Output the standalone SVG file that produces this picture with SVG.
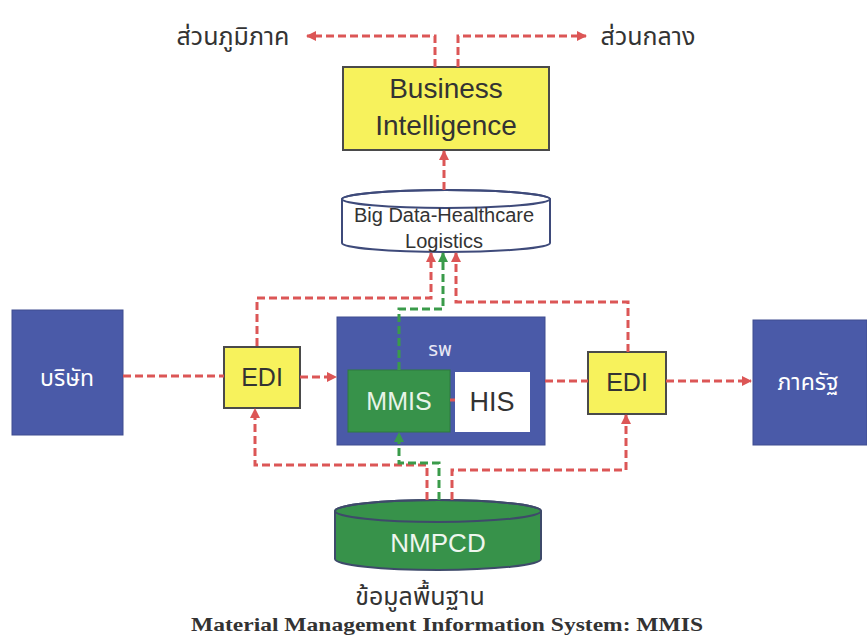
<svg xmlns="http://www.w3.org/2000/svg" width="867" height="639" viewBox="0 0 867 639">
<style>
.red{fill:none;stroke:#dc5656;stroke-width:3;stroke-dasharray:8 4}
.grn{fill:none;stroke:#3a9b4a;stroke-width:3;stroke-dasharray:8 4}
.box{stroke:#4a4a4a;stroke-width:2}
.yel{fill:#f7f25c}
.blue{fill:#4a5aa8;stroke:#3e4c90;stroke-width:1}
.sans{font-family:"Liberation Sans",Arial,sans-serif}
.th{font-family:"Noto Sans Thai","Noto Serif Thai","Noto Sans","DejaVu Sans",sans-serif}
</style>
<defs>
<marker id="ar" viewBox="0 0 10 10" refX="9" refY="5" markerWidth="10" markerHeight="10" markerUnits="userSpaceOnUse" orient="auto"><path d="M0,0 L10,5 L0,10 Z" fill="#dc5656"/></marker>
<marker id="ag" viewBox="0 0 10 10" refX="9" refY="5" markerWidth="10" markerHeight="10" markerUnits="userSpaceOnUse" orient="auto"><path d="M0,0 L10,5 L0,10 Z" fill="#3a9b4a"/></marker>
</defs>
<rect width="867" height="639" fill="#ffffff"/>

<g id="label-regional"><text class="th" x="233" y="45" font-size="25" fill="#333" text-anchor="middle">ส่วนภูมิภาค</text></g>
<g id="label-central"><text class="th" x="648" y="45" font-size="25" fill="#333" text-anchor="middle">ส่วนกลาง</text></g>

<g id="bi">
<rect class="box yel" x="343" y="67" width="206" height="83"/>
<text class="sans" x="446" y="98" font-size="28" fill="#333" text-anchor="middle">Business</text>
<text class="sans" x="446" y="135" font-size="28" fill="#333" text-anchor="middle">Intelligence</text>
</g>

<g id="bigdata">
<path d="M342,199 V243 A104,9 0 0 0 550,243 V199 A104,9 0 0 0 342,199 Z" fill="#fff" stroke="#3e4a7a" stroke-width="2"/>
<ellipse cx="446" cy="199" rx="104" ry="9" fill="none" stroke="#3e4a7a" stroke-width="2"/>
<text class="sans" x="444" y="222" font-size="20" fill="#333" text-anchor="middle">Big Data-Healthcare</text>
<text class="sans" x="444" y="248" font-size="20" fill="#333" text-anchor="middle">Logistics</text>
</g>

<g id="company">
<rect class="blue" x="12" y="310" width="111" height="125"/>
<text class="th" x="67" y="386" font-size="23" fill="#fff" text-anchor="middle">บริษัท</text>
</g>

<g id="edi-left">
<rect class="box yel" x="224" y="347" width="76" height="61"/>
<text class="sans" x="262" y="386" font-size="25" fill="#333" text-anchor="middle">EDI</text>
</g>

<g id="hospital">
<rect class="blue" x="337" y="317" width="208" height="128"/>
<text class="th" x="440" y="356" font-size="20" fill="#e8e8f4" text-anchor="middle">รพ</text>
</g>

<g id="mmis">
<rect x="348" y="370" width="102" height="62" fill="#37924a" stroke="#2f7a3e" stroke-width="1"/>
<text class="sans" x="399" y="410" font-size="25" fill="#e8f4e8" text-anchor="middle">MMIS</text>
</g>

<g id="his">
<rect x="455" y="372" width="75" height="60" fill="#fff"/>
<text class="sans" x="492" y="411" font-size="27" fill="#333" text-anchor="middle">HIS</text>
</g>

<g id="edi-right">
<rect class="box yel" x="588" y="352" width="78" height="62"/>
<text class="sans" x="627" y="391" font-size="25" fill="#333" text-anchor="middle">EDI</text>
</g>

<g id="government">
<rect class="blue" x="753" y="320" width="114" height="125"/>
<text class="th" x="808" y="390" font-size="23" fill="#fff" text-anchor="middle">ภาครัฐ</text>
</g>

<g id="nmpcd">
<path d="M335,511 V559 A103,11 0 0 0 541,559 V511 A103,11 0 0 0 335,511 Z" fill="#37924a" stroke="#3e4a6a" stroke-width="2"/>
<ellipse cx="438" cy="511" rx="103" ry="11" fill="none" stroke="#3e4a6a" stroke-width="2"/>
<text class="sans" x="438" y="552" font-size="26" fill="#eef6ee" text-anchor="middle">NMPCD</text>
</g>

<g id="label-base"><text class="th" x="420" y="605" font-size="25" fill="#333" text-anchor="middle">ข้อมูลพื้นฐาน</text></g>
<g id="caption"><text x="447" y="631" font-family="Liberation Serif,serif" font-weight="bold" font-size="19" fill="#333" text-anchor="middle" textLength="512" lengthAdjust="spacingAndGlyphs">Material Management Information System: MMIS</text></g>

<g id="connectors">
<path class="red" d="M435,67 V36 H307" marker-end="url(#ar)"/>
<path class="red" d="M458,67 V36 H586" marker-end="url(#ar)"/>
<path class="red" d="M444,190 V151" marker-end="url(#ar)"/>
<path class="red" d="M257,346 V298 H431 V253" marker-end="url(#ar)"/>
<path class="red" d="M628,352 V302 H456 V253" marker-end="url(#ar)"/>
<path class="grn" d="M399,370 V309 H443 V253" marker-end="url(#ag)"/>
<path class="red" d="M427,500 V465 H255 V409" marker-end="url(#ar)"/>
<path class="grn" d="M439,500 V463 H399 V433" marker-end="url(#ag)"/>
<path class="red" d="M452,500 V470 H626 V415" marker-end="url(#ar)"/>
<path class="red" d="M123,376 H224"/>
<path class="red" d="M300,377 H336" marker-end="url(#ar)"/>
<path class="red" d="M545,381 H588"/>
<path class="red" d="M666,381 H751" marker-end="url(#ar)"/>
<path class="red" d="M450,400 H455"/>
</g>
</svg>
